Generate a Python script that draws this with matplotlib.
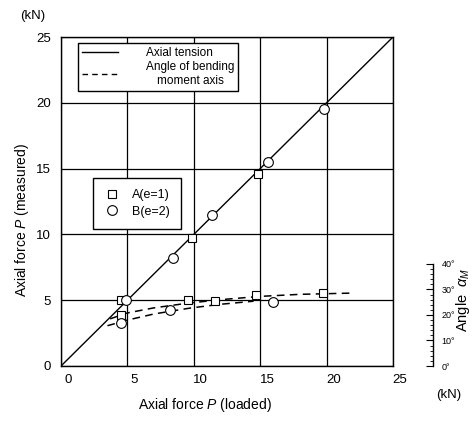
import matplotlib
matplotlib.use("Agg")
import matplotlib.pyplot as plt
import matplotlib.transforms as mtransforms
from matplotlib.lines import Line2D

plt.rcParams["font.family"] = ["Liberation Sans", "DejaVu Sans"]
plt.rcParams["mathtext.fontset"] = "custom"
plt.rcParams["mathtext.rm"] = "Liberation Sans"
plt.rcParams["mathtext.it"] = "Liberation Sans:italic"

# measured vs loaded axial force (kN)
tension_x = [0, 25]
tension_y = [0, 25]
a_loaded = [4.5, 9.9, 14.8]
a_measured = [5.0, 9.7, 14.6]
b_loaded = [4.9, 8.4, 11.4, 15.6, 19.8]
b_measured = [5.0, 8.2, 11.5, 15.5, 19.5]

# angle of bending moment axis (deg)
a_angle_x = [4.5, 9.6, 11.6, 14.7, 19.7]
a_angle = [20.0, 25.9, 25.5, 27.8, 28.6]
b_angle_x = [4.5, 8.2, 16.0]
b_angle = [16.9, 22.0, 25.1]
a_curve_x = [3.7, 5.0, 7.0, 9.5, 12.0, 15.0, 18.0, 22.0]
a_curve = [18.5, 20.8, 22.8, 24.6, 26.0, 27.3, 28.1, 28.6]
b_curve_x = [3.5, 5.0, 7.0, 9.7, 12.0, 14.5]
b_curve = [15.8, 18.0, 20.4, 22.7, 24.2, 25.4]

ticks = [0, 5, 10, 15, 20, 25]
angle_ticks = [0, 10, 20, 30, 40]

fig = plt.figure(figsize=(4.77, 4.22), dpi=100)
ax = fig.add_axes([61 / 477, 56 / 422, 332 / 477, 329 / 422])
ax.set_xlim(0, 25)
ax.set_ylim(0, 25)
ax.set_xticks(ticks)
ax.set_yticks(ticks)
ax.grid(True, color="black", lw=0.9)
ax.set_axisbelow(True)
ax.tick_params(length=0, labelsize=9.5)
ax.tick_params(axis="x", pad=6)
ax.tick_params(axis="y", pad=7)
for s in ax.spines.values():
    s.set_linewidth(1.0)

# x tick labels sit a bit right of the grid lines in the original
shift = mtransforms.ScaledTranslation(7 / 100, 0, fig.dpi_scale_trans)
for lbl in ax.get_xticklabels():
    lbl.set_transform(lbl.get_transform() + shift)

ax.plot(tension_x, tension_y, color="black", lw=1.0, zorder=3)
ax.plot(a_loaded, a_measured, ls="none", marker="s", ms=6, mfc="white", mec="black", mew=0.8, zorder=4)
ax.plot(b_loaded, b_measured, ls="none", marker="o", ms=7, mfc="white", mec="black", mew=0.8, zorder=4)

# angle axis on the right
ax2 = ax.twinx()
ax2.set_ylim(0, 129)
ax2.set_xlim(0, 25)
for side in ["left", "top", "bottom"]:
    ax2.spines[side].set_visible(False)
ax2.spines["right"].set_position(("outward", 40 * 0.72))
ax2.spines["right"].set_bounds(0, 40)
ax2.spines["right"].set_linewidth(1.0)
ax2.set_yticks(angle_ticks)
ax2.set_yticklabels([f"{t}°" for t in angle_ticks])
ax2.set_yticks(range(0, 41, 2), minor=True)
ax2.tick_params(axis="y", which="major", direction="in", length=5, labelsize=6.5, pad=6)
ax2.tick_params(axis="y", which="minor", direction="in", length=2.5)

ax2.plot(a_curve_x, a_curve, color="black", lw=1.1, ls=(0, (5, 3.5)), zorder=3)
ax2.plot(b_curve_x, b_curve, color="black", lw=1.1, ls=(0, (5, 3.5)), zorder=3)
ax2.plot(a_angle_x, a_angle, ls="none", marker="s", ms=6, mfc="white", mec="black", mew=0.8, zorder=4)
ax2.plot(b_angle_x, b_angle, ls="none", marker="o", ms=7, mfc="white", mec="black", mew=0.8, zorder=4)

# legends
h1 = [Line2D([], [], color="black", lw=1.0),
      Line2D([], [], color="black", lw=1.0, ls=(0, (4, 3)))]
leg1 = ax2.legend(h1, ["Axial tension", "Angle of bending\nmoment axis"],
                  loc="upper left", bbox_to_anchor=(78 / 477, 1 - 43 / 422),
                  bbox_transform=fig.transFigure, frameon=True, fancybox=False,
                  edgecolor="black", framealpha=1, fontsize=8.5, handlelength=3.0,
                  handletextpad=2.4, borderpad=0.35, labelspacing=0.15, borderaxespad=0)
leg1.get_frame().set_linewidth(1.0)
for t in leg1.get_texts():
    t.set_multialignment("center")
ax2.add_artist(leg1)

h2 = [Line2D([], [], ls="none", marker="s", ms=6, mfc="white", mec="black", mew=0.8),
      Line2D([], [], ls="none", marker="o", ms=7, mfc="white", mec="black", mew=0.8)]
leg2 = ax2.legend(h2, ["A(e=1)", "B(e=2)"],
                  loc="upper left", bbox_to_anchor=(93 / 477, 1 - 178 / 422),
                  bbox_transform=fig.transFigure, frameon=True, fancybox=False,
                  edgecolor="black", framealpha=1, fontsize=9, handlelength=1.2,
                  handletextpad=1.0, borderpad=0.9, labelspacing=0.35, borderaxespad=0)
leg2.get_frame().set_linewidth(1.0)

# axis titles and units
fig.text(205 / 477, 1 - 405 / 422, "Axial force $P$ (loaded)", ha="center", va="center", fontsize=10)
fig.text(22 / 477, 1 - 220 / 422, "Axial force $P$ (measured)", ha="center", va="center",
         rotation=90, fontsize=10)
fig.text(33 / 477, 1 - 16 / 422, "(kN)", ha="center", va="center", fontsize=9.5)
fig.text(449 / 477, 1 - 395 / 422, "(kN)", ha="center", va="center", fontsize=9.5)
fig.text(463 / 477, 1 - 300 / 422, r"Angle  $\alpha_M$", ha="center", va="center",
         rotation=90, fontsize=10.5)

fig.savefig("out.png", dpi=100)
